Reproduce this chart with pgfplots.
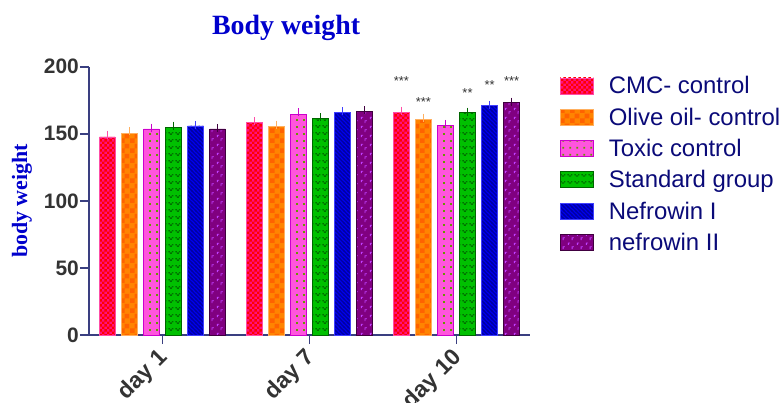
\documentclass[border=0pt]{standalone}
\usepackage{pgfplots}
\pgfplotsset{compat=1.18}
\usepackage{fontspec}
\setmainfont{Liberation Sans}
\newfontfamily\seriffont{Liberation Serif}
\usetikzlibrary{patterns}

\definecolor{axiscol}{HTML}{3A3F80}
\definecolor{tickcol}{HTML}{333333}
\definecolor{titlecol}{HTML}{0000CC}
\definecolor{legcol}{HTML}{0A0A78}
\definecolor{cmcbg}{HTML}{FF1080}
\definecolor{cmcpat}{HTML}{FF0000}
\definecolor{cmcdr}{HTML}{FF4DA6}
\definecolor{olbg}{HTML}{FF8400}
\definecolor{olpat}{HTML}{FF6200}
\definecolor{oldr}{HTML}{FFB060}
\definecolor{toxbg}{HTML}{FF55DD}
\definecolor{toxpat}{HTML}{669900}
\definecolor{toxdr}{HTML}{CC00CC}
\definecolor{stdbg}{HTML}{00C000}
\definecolor{stdpat}{HTML}{007000}
\definecolor{stddr}{HTML}{006600}
\definecolor{nabg}{HTML}{0000F0}
\definecolor{napat}{HTML}{0000A0}
\definecolor{nadr}{HTML}{4040FF}
\definecolor{nbbg}{HTML}{800080}
\definecolor{nbpat}{HTML}{C040FF}
\definecolor{nbdr}{HTML}{400040}

\pgfdeclarepatternformonly{smallchecker}{\pgfpointorigin}{\pgfqpoint{5.4bp}{5.4bp}}{\pgfqpoint{5.4bp}{5.4bp}}{%
 \pgfpathrectangle{\pgfpointorigin}{\pgfqpoint{2.7bp}{2.7bp}}%
 \pgfpathrectangle{\pgfqpoint{2.7bp}{2.7bp}}{\pgfqpoint{2.7bp}{2.7bp}}%
 \pgfusepath{fill}}
\pgfdeclarepatternformonly{bigchecker}{\pgfpointorigin}{\pgfqpoint{10bp}{10bp}}{\pgfqpoint{10bp}{10bp}}{%
 \pgfpathrectangle{\pgfpointorigin}{\pgfqpoint{5bp}{5bp}}%
 \pgfpathrectangle{\pgfqpoint{5bp}{5bp}}{\pgfqpoint{5bp}{5bp}}%
 \pgfusepath{fill}}
\pgfdeclarepatternformonly{sqdots}{\pgfpointorigin}{\pgfqpoint{7bp}{7bp}}{\pgfqpoint{7bp}{7bp}}{%
 \pgfpathrectangle{\pgfqpoint{2.5bp}{2.5bp}}{\pgfqpoint{2bp}{2bp}}%
 \pgfusepath{fill}}
\pgfdeclarepatternformonly{vpat}{\pgfpointorigin}{\pgfqpoint{7bp}{7bp}}{\pgfqpoint{7bp}{7bp}}{%
 \pgfpathrectangle{\pgfqpoint{0.5bp}{4bp}}{\pgfqpoint{1.5bp}{1.5bp}}%
 \pgfpathrectangle{\pgfqpoint{4.5bp}{4bp}}{\pgfqpoint{1.5bp}{1.5bp}}%
 \pgfpathrectangle{\pgfqpoint{2bp}{2.5bp}}{\pgfqpoint{2.5bp}{1.5bp}}%
 \pgfusepath{fill}}
\pgfdeclarepatternformonly{nwlines}{\pgfqpoint{-1bp}{-1bp}}{\pgfqpoint{5bp}{5bp}}{\pgfqpoint{4bp}{4bp}}{%
 \pgfsetlinewidth{1.1bp}%
 \pgfpathmoveto{\pgfqpoint{-1bp}{5bp}}\pgfpathlineto{\pgfqpoint{5bp}{-1bp}}%
 \pgfusepath{stroke}}
\pgfdeclarepatternformonly{lpat}{\pgfpointorigin}{\pgfqpoint{9bp}{9bp}}{\pgfqpoint{9bp}{9bp}}{%
 \pgfsetlinewidth{0.9bp}%
 \pgfpathmoveto{\pgfqpoint{1bp}{7.5bp}}\pgfpathlineto{\pgfqpoint{3.5bp}{7.5bp}}%
 \pgfpathmoveto{\pgfqpoint{1.5bp}{7.5bp}}\pgfpathlineto{\pgfqpoint{1.5bp}{5.5bp}}%
 \pgfpathmoveto{\pgfqpoint{5bp}{3.5bp}}\pgfpathlineto{\pgfqpoint{7.5bp}{3.5bp}}%
 \pgfpathmoveto{\pgfqpoint{5.5bp}{3.5bp}}\pgfpathlineto{\pgfqpoint{5.5bp}{1bp}}%
 \pgfusepath{stroke}}

\pgfplotstableread{
x  y      e
0  147.6  1.8
1  158.3  1.0
2  166.0  1.2
}\cmc
\pgfplotstableread{
x  y      e
0  150.4  1.8
1  155.3  1.5
2  161.0  1.0
}\olive
\pgfplotstableread{
x  y      e
0  153.6  1.0
1  164.7  1.4
2  156.3  1.0
}\toxic
\pgfplotstableread{
x  y      e
0  155.0  1.0
1  161.3  1.2
2  165.7  0.8
}\standard
\pgfplotstableread{
x  y      e
0  155.8  0.8
1  165.7  1.0
2  171.0  0.6
}\nefa
\pgfplotstableread{
x  y      e
0  153.6  0.8
1  166.8  0.8
2  173.2  0.8
}\nefb

\begin{document}
\begin{tikzpicture}
\useasboundingbox (-89bp,-68bp) rectangle (693bp,335bp);
\begin{axis}[
 at={(0,0)}, anchor=south west,
 width=441bp, height=268.3bp, scale only axis,
 xmin=-0.5, xmax=2.5, ymin=0, ymax=200,
 axis lines=left,
 axis line style={-, color=axiscol, line width=1.8bp},
 xtick={0,1,2}, xticklabels={day 1, day 7, day 10},
 ytick={0,50,...,200},
 tick align=outside, major tick length=9bp,
 tick style={color=axiscol, line width=1.8bp},
 tick label style={font=\fontsize{21}{23}\selectfont\bfseries, color=tickcol},
 /pgf/number format/assume math mode=true,
 yticklabel style={inner sep=1bp},
 xticklabel style={font=\fontsize{23}{25}\selectfont\bfseries, xshift=-6bp, rotate=45, anchor=north east, inner sep=2bp},
 ybar=6.5bp, bar width=15.5bp,
 title={Body weight},
 title style={font=\seriffont\bfseries\fontsize{28}{30}\selectfont, color=titlecol, at={(0.447,1)}, anchor=base, yshift=26.4bp},
 ylabel={body weight},
 ylabel style={font=\seriffont\bfseries\fontsize{22}{24}\selectfont, color=titlecol, at={(-0.152,0.5)}, anchor=center},
 legend style={at={(1.061,0.979)}, anchor=north west, draw=none, fill=none,
   font=\fontsize{24}{27}\selectfont, text=legcol, row sep=8.5bp,
   nodes={inner sep=2bp},
   /tikz/every odd column/.append style={column sep=13bp}},
 legend cell align=left,
 legend image code/.code={\draw[#1] (0bp,-8bp) rectangle (33bp,8bp);},
 error bars/y dir=plus, error bars/y explicit,
]
\addplot[fill=cmcbg, draw=cmcdr, line width=0.8bp, postaction={pattern=smallchecker, pattern color=cmcpat},
  error bars/error bar style={color=cmcdr, line width=1.3bp},
  error bars/error mark options={color=cmcdr, line width=1.3bp, mark size=4bp}]
  table[x=x, y=y, y error=e]{\cmc};
\addplot[fill=olbg, draw=oldr, line width=0.8bp, postaction={pattern=bigchecker, pattern color=olpat},
  error bars/error bar style={color=oldr, line width=1.3bp},
  error bars/error mark options={color=oldr, line width=1.3bp, mark size=4bp}]
  table[x=x, y=y, y error=e]{\olive};
\addplot[fill=toxbg, draw=toxdr, line width=0.8bp, postaction={pattern=sqdots, pattern color=toxpat},
  error bars/error bar style={color=toxdr, line width=1.3bp},
  error bars/error mark options={color=toxdr, line width=1.3bp, mark size=4bp}]
  table[x=x, y=y, y error=e]{\toxic};
\addplot[fill=stdbg, draw=stddr, line width=0.8bp, postaction={pattern=vpat, pattern color=stdpat},
  error bars/error bar style={color=stddr, line width=1.3bp},
  error bars/error mark options={color=stddr, line width=1.3bp, mark size=4bp}]
  table[x=x, y=y, y error=e]{\standard};
\addplot[fill=nabg, draw=nadr, line width=0.8bp, postaction={pattern=nwlines, pattern color=napat},
  error bars/error bar style={color=nadr, line width=1.3bp},
  error bars/error mark options={color=nadr, line width=1.3bp, mark size=4bp}]
  table[x=x, y=y, y error=e]{\nefa};
\addplot[fill=nbbg, draw=nbdr, line width=0.8bp, postaction={pattern=lpat, pattern color=nbpat},
  error bars/error bar style={color=nbdr, line width=1.3bp},
  error bars/error mark options={color=nbdr, line width=1.3bp, mark size=4bp}]
  table[x=x, y=y, y error=e]{\nefb};
\legend{CMC- control, Olive oil- control, Toxic control, Standard group, Nefrowin I, nefrowin II}
\node[font=\fontsize{13}{13}\selectfont, color=tickcol] at (axis cs:1.625,189) {***};
\node[font=\fontsize{13}{13}\selectfont, color=tickcol] at (axis cs:1.775,174) {***};
\node[font=\fontsize{13}{13}\selectfont, color=tickcol] at (axis cs:2.075,180) {**};
\node[font=\fontsize{13}{13}\selectfont, color=tickcol] at (axis cs:2.225,186) {**};
\node[font=\fontsize{13}{13}\selectfont, color=tickcol] at (axis cs:2.375,189) {***};
\end{axis}
\end{tikzpicture}
\end{document}
